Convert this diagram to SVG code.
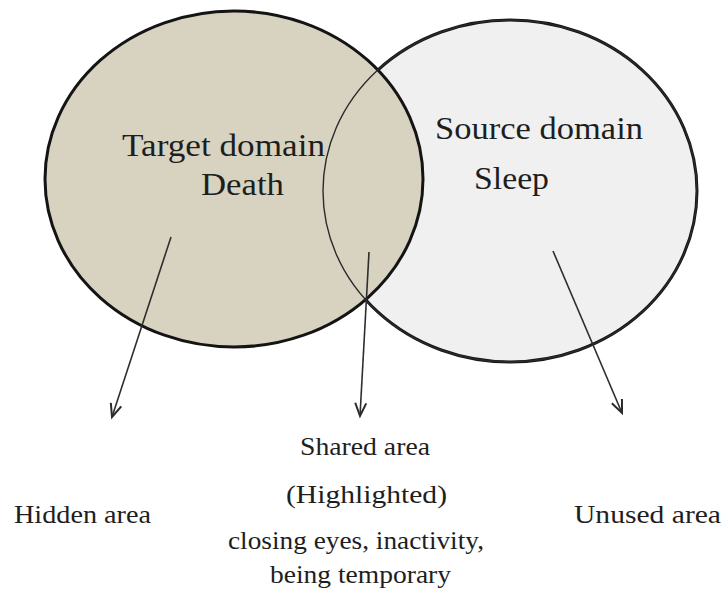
<svg xmlns="http://www.w3.org/2000/svg" width="726" height="596" viewBox="0 0 726 596">
  <style>
    .lbl { font-family: "Liberation Serif", "Times New Roman", serif; fill: #1e1e1e; }
    .big { font-size: 32px; }
    .small { font-size: 26px; }
    .outline { stroke: #141414; stroke-width: 3; }
    .conn { stroke: #2e2e2e; stroke-width: 1.6; fill: none; }
  </style>
  <defs>
    <marker id="arrow" markerUnits="userSpaceOnUse" markerWidth="20" markerHeight="20" refX="14" refY="7" orient="auto">
      <path d="M1,1.5 L14,7 L1,12.5" fill="none" stroke="#2a2a2a" stroke-width="2"/>
    </marker>
  </defs>
  <rect width="726" height="596" fill="#ffffff"/>

  <g id="node-source">
    <ellipse cx="510" cy="191" rx="187" ry="171" fill="#f0f0f1" class="outline"/>
  </g>
  <g id="node-target">
    <ellipse cx="234" cy="179" rx="189" ry="168" fill="#d8d3c1" class="outline"/>
  </g>
  <g id="overlap-arc">
    <ellipse cx="510" cy="191" rx="187" ry="171" fill="none" stroke="#2a2a2a" stroke-width="1.4"/>
  </g>

  <g id="node-target-label">
    <text class="lbl big" x="122" y="156" textLength="203" lengthAdjust="spacingAndGlyphs">Target domain</text>
    <text class="lbl big" x="201" y="195" textLength="83" lengthAdjust="spacingAndGlyphs">Death</text>
  </g>
  <g id="node-source-label">
    <text class="lbl big" x="435" y="139" textLength="208" lengthAdjust="spacingAndGlyphs">Source domain</text>
    <text class="lbl big" x="474" y="189" textLength="75" lengthAdjust="spacingAndGlyphs">Sleep</text>
  </g>

  <g id="connectors">
    <line class="conn" x1="171" y1="237" x2="112" y2="417" marker-end="url(#arrow)"/>
    <line class="conn" x1="369" y1="252" x2="360" y2="416" marker-end="url(#arrow)"/>
    <line class="conn" x1="553" y1="251" x2="622" y2="413" marker-end="url(#arrow)"/>
  </g>

  <g id="node-hidden">
    <text class="lbl small" x="14" y="523" textLength="137" lengthAdjust="spacingAndGlyphs">Hidden area</text>
  </g>
  <g id="node-shared">
    <text class="lbl small" x="300" y="455" textLength="130" lengthAdjust="spacingAndGlyphs">Shared area</text>
    <text class="lbl small" x="286" y="503" textLength="161" lengthAdjust="spacingAndGlyphs">(Highlighted)</text>
    <text class="lbl small" x="228" y="549" textLength="256" lengthAdjust="spacingAndGlyphs">closing eyes, inactivity,</text>
    <text class="lbl small" x="270" y="583" textLength="181" lengthAdjust="spacingAndGlyphs">being temporary</text>
  </g>
  <g id="node-unused">
    <text class="lbl small" x="574" y="523" textLength="147" lengthAdjust="spacingAndGlyphs">Unused area</text>
  </g>
</svg>
